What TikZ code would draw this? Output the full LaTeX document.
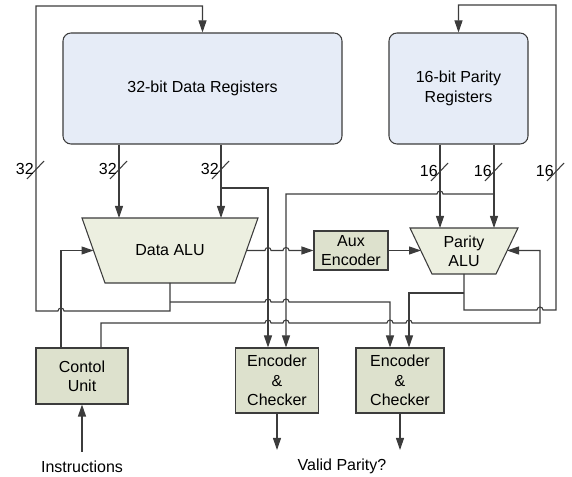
\documentclass[tikz,border=0pt]{standalone}
\usepackage{fontspec}
\setmainfont{Liberation Sans}
\usetikzlibrary{arrows.meta}

\definecolor{regfill}{RGB}{230,236,247}
\definecolor{alufill}{RGB}{236,239,224}
\definecolor{boxfill}{RGB}{221,225,205}
\definecolor{wiregray}{RGB}{60,60,60}

\tikzset{
  wire/.style={draw=wiregray, line width=0.8pt},
  arr/.style={wire, -{Triangle[length=9pt,width=6pt]}},
  regbox/.style={draw=wiregray, line width=0.8pt, fill=regfill, rounded corners=6pt, align=center},
  unitbox/.style={draw=wiregray, line width=0.8pt, fill=boxfill, align=center, inner sep=0pt},
  alushape/.style={draw=wiregray, line width=0.8pt, fill=alufill},
}

% little bridge where one wire crosses another
\newcommand{\hop}[2]{-- ({#1-3},#2) arc[start angle=180,end angle=360,radius=3]}
\newcommand{\hopl}[2]{-- ({#1+3},#2) arc[start angle=0,end angle=-180,radius=3]}

\begin{document}
\begin{tikzpicture}[x=0.75pt, y=-0.75pt, font=\fontsize{12}{14.5}\selectfont]

    \useasboundingbox (0,0) rectangle (572,477);

    % register files
    \node[regbox, minimum width=209.25pt, minimum height=83.25pt] (dataregs) at (202.5,88.5) {32-bit Data Registers};
    \node[regbox, minimum width=104.25pt, minimum height=83.25pt] (parityregs) at (458.5,88.5) {16-bit Parity\\Registers};

    % ALUs
    \draw[alushape] (82,218) -- (258,218) -- (235,283) -- (105,283) -- cycle;
    \node[align=center] (dataalu) at (170,250.5) {Data ALU};
    \coordinate (dataalu-w) at (93.5,250.5);
    \coordinate (dataalu-e) at (246.5,250.5);
    \coordinate (dataalu-s) at (170,283);

    \draw[alushape] (410,228) -- (518,228) -- (496,274) -- (432,274) -- cycle;
    \node[align=center] (parityalu) at (464,251) {Parity\\ALU};
    \coordinate (parityalu-w) at (421,250.5);
    \coordinate (parityalu-e) at (507,250.5);
    \coordinate (parityalu-s) at (464,274);

    % other units
    \node[unitbox, minimum width=55.5pt, minimum height=29.25pt] (aux) at (351,250.5) {Aux\\Encoder};
    \node[unitbox, minimum width=69pt, minimum height=42pt] (ctrl) at (82,376) {Contol\\Unit};
    \node[unitbox, minimum width=62.25pt, minimum height=48.75pt] (enc1) at (277,380.5) {Encoder\\\&\\Checker};
    \node[unitbox, minimum width=66pt, minimum height=48.75pt] (enc2) at (400,380.5) {Encoder\\\&\\Checker};

    \node (instr) at (82,467) {Instructions};
    \node (valid) at (342,466) {Valid Parity?};
    \coordinate (outs) at (0,450);

    % register outputs
    \draw[arr] (119,0 |- dataregs.south) -- (119,218);
    \draw[arr] (221,0 |- dataregs.south) -- (221,218);
    \draw[arr] (440,0 |- parityregs.south) -- (440,228);
    \draw[arr] (494,0 |- parityregs.south) -- (494,228);
    \draw[arr] (221,188) -| (268,0 |- enc1.north);
    \draw[arr] (494,194) \hopl{440}{194} -- (286,194) -- (286,0 |- enc1.north);

    % data path
    \draw[arr] (dataalu-e) \hop{268}{250.5} \hop{286}{250.5} -- (aux.west);
    \draw[arr] (aux.east) -- (parityalu-w);
    \draw[arr] (dataalu-s) -- (170,311) \hopl{61}{311} -- (36,311) -- (36,6) -| (dataregs.north);
    \draw[arr] (170,302) \hop{268}{302} \hop{286}{302} -| (390,0 |- enc2.north);
    \draw[arr] (parityalu-s) -- (464,310) \hop{540}{310} -- (556,310) -- (556,5) -| (parityregs.north);
    \draw[arr] (464,293) -| (409,0 |- enc2.north);

    % control
    \draw[arr] (61,0 |- ctrl.north) |- (dataalu-w);
    \draw[arr] (101,0 |- ctrl.north) -- (101,323) \hop{268}{323} \hop{286}{323} \hop{390}{323} \hop{409}{323}
        -- (540,323) |- (parityalu-e);
    \draw[arr] ([yshift=3.5pt]instr.north) -- (ctrl.south);

    % checker outputs
    \draw[arr] (enc1.south) -- (enc1.south |- outs);
    \draw[arr] (enc2.south) -- (enc2.south |- outs);

    % bus widths
    \foreach \x/\y/\w in {36/170/32, 119/170/32, 221/170/32, 440/172/16, 494/172/16, 556/172/16} {
        \draw[wire] (\x-9,\y+9) -- (\x+8,\y-9);
        \node[anchor=east, inner sep=0pt] (w\x) at (\x-2,\y-1) {\w};
    }

\end{tikzpicture}
\end{document}
